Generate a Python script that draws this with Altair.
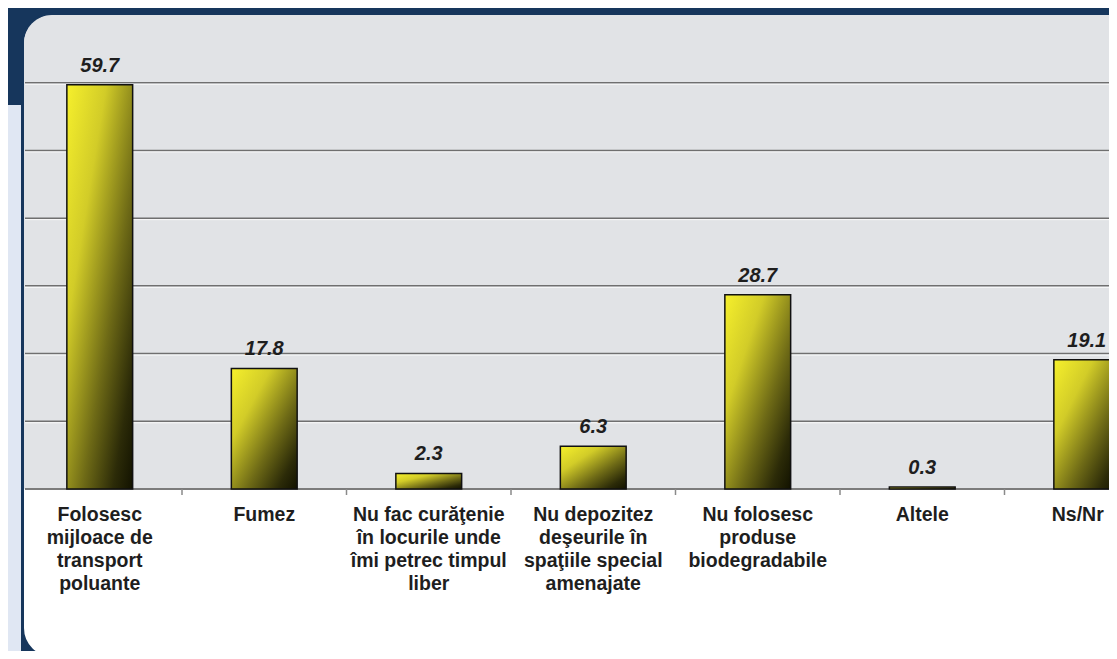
import altair as alt
import pandas as pd

# ---- data ----
categories = [
    "Folosesc|mijloace de|transport|poluante",
    "Fumez",
    "Nu fac curăţenie|în locurile unde|îmi petrec timpul|liber",
    "Nu depozitez|deşeurile în|spaţiile special|amenajate",
    "Nu folosesc|produse|biodegradabile",
    "Altele",
    "Ns/Nr",
]
values = [59.7, 17.8, 2.3, 6.3, 28.7, 0.3, 19.1]
grid_values = [10, 20, 30, 40, 50, 60]
y_domain = [0, 70]

NAVY = "#16365c"
LIGHTBLUE = "#e0e7f3"
MARBLE = "#e1e3e6"

PW, PH = 1084, 474

df = pd.DataFrame({"cat": categories, "value": values})
tick_df = pd.DataFrame({"cat": categories[1:]})
grid_df = pd.DataFrame({"g": grid_values})
one = pd.DataFrame({"k": [0]})

xscale = alt.Scale(domain=categories, range=[-7.5, 1144], paddingInner=0, paddingOuter=0)
yscale = alt.Scale(domain=y_domain, nice=False, zero=True)

x_axis = alt.Axis(
    title=None, domain=False, ticks=False, grid=False, labelAngle=0,
    labelExpr="split(datum.label, '|')",
    labelFont="Liberation Sans", labelFontWeight="bold", labelFontSize=19.5,
    labelColor="#1e1e1e", labelLineHeight=23, labelPadding=16, labelLimit=0,
    labelBaseline="top", zindex=1,
    labelOffset={"condition": {"test": "datum.label == 'Ns/Nr'", "value": -9}, "value": 0},
)

lightblue = alt.Chart(one).mark_rect(color=LIGHTBLUE).encode(
    x=alt.value(-17), x2=alt.value(-4), y=alt.value(90), y2=alt.value(700)
)
panel = alt.Chart(one).mark_rect(
    fill="white", stroke=NAVY, strokeWidth=3,
    cornerRadiusTopLeft=30, cornerRadiusBottomLeft=30,
).encode(x=alt.value(-2.5), x2=alt.value(1200), y=alt.value(-1), y2=alt.value(643))
marble = alt.Chart(one).mark_rect(fill=MARBLE, cornerRadiusTopLeft=28).encode(
    x=alt.value(-1), x2=alt.value(1200), y=alt.value(0), y2=alt.value(PH)
)

grid = alt.Chart(grid_df).mark_rule(color="#6f6f6f", strokeWidth=1.5).encode(
    y=alt.Y("g:Q", scale=yscale, axis=None), x=alt.value(0), x2=alt.value(PW + 30)
)
grid_hl = alt.Chart(grid_df).mark_rule(color="white", strokeWidth=1, yOffset=1.5, opacity=0.8).encode(
    y=alt.Y("g:Q", scale=yscale, axis=None), x=alt.value(0), x2=alt.value(PW + 30)
)
baseline = alt.Chart(one).mark_rule(color="#7c7c7c", strokeWidth=2).encode(
    y=alt.value(PH), x=alt.value(0), x2=alt.value(PW + 30)
)
ticks = alt.Chart(tick_df).mark_rule(color="#8a8a8a", strokeWidth=1.5).encode(
    x=alt.X("cat:N", bandPosition=0, scale=xscale, axis=x_axis, sort=categories),
    y=alt.value(PH), y2=alt.value(PH + 6),
)

gradient = alt.LinearGradient(
    gradient="linear",
    stops=[
        alt.GradientStop(color="#f6f02c", offset=0),
        alt.GradientStop(color="#d2cc28", offset=0.3),
        alt.GradientStop(color="#6e6a16", offset=0.62),
        alt.GradientStop(color="#2c2b08", offset=0.85),
        alt.GradientStop(color="#121200", offset=1),
    ],
    x1=0, y1=0, x2=1, y2=1,
)

bars = alt.Chart(df).mark_bar(
    width=alt.RelativeBandSize(0.4), color=gradient, stroke="#111111", strokeWidth=1.5
).encode(
    x=alt.X("cat:N", scale=xscale, axis=x_axis, sort=categories),
    y=alt.Y("value:Q", scale=yscale, axis=None),
)

labels = alt.Chart(df).mark_text(
    font="Liberation Sans", fontWeight="bold", fontStyle="italic", fontSize=20,
    color="#1e1e1e", baseline="alphabetic", dy=-13,
).encode(
    x=alt.X("cat:N", scale=xscale, axis=x_axis, sort=categories),
    y=alt.Y("value:Q", scale=yscale, axis=None),
    text=alt.Text("value:Q", format=".1f"),
)

chart = alt.layer(
    lightblue, panel, marble, grid, grid_hl, baseline, ticks, bars, labels
).properties(
    width=PW, height=PH,
    padding={"left": 17, "top": 7, "right": 0, "bottom": 162},
    autosize=alt.AutoSizeParams(type="none"),
    background=NAVY,
).configure_view(stroke=None, fill=None)

chart.save("out.html", embed_options={"renderer": "svg", "actions": False})
